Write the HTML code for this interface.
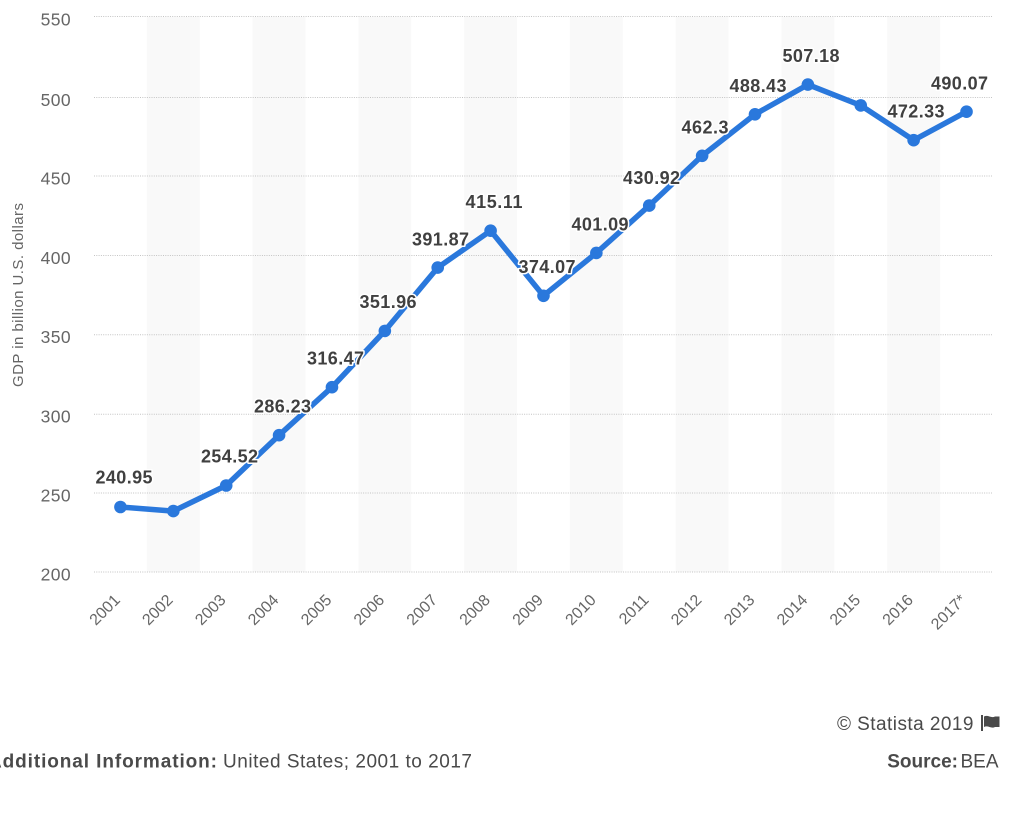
<!DOCTYPE html>
<html>
<head>
<meta charset="utf-8">
<style>
  html,body{margin:0;padding:0;background:#fff;}
  body{width:1011px;height:832px;overflow:hidden;}
  svg{display:block;font-family:"Liberation Sans",sans-serif;}
</style>
</head>
<body>
<svg width="1011" height="832" viewBox="0 0 1011 832" xmlns="http://www.w3.org/2000/svg">
  <!-- alternating bands -->
  <g fill="#f9f9f9">
    <rect x="146.88" y="17" width="52.88" height="555"/>
    <rect x="252.64" y="17" width="52.88" height="555"/>
    <rect x="358.40" y="17" width="52.88" height="555"/>
    <rect x="464.16" y="17" width="52.88" height="555"/>
    <rect x="569.92" y="17" width="52.88" height="555"/>
    <rect x="675.68" y="17" width="52.88" height="555"/>
    <rect x="781.44" y="17" width="52.88" height="555"/>
    <rect x="887.20" y="17" width="52.88" height="555"/>
  </g>
  <!-- gridlines -->
  <g stroke="#c4c4c4" stroke-width="1" stroke-dasharray="1 1.3">
    <line x1="94" y1="16.5" x2="993" y2="16.5"/>
    <line x1="94" y1="97.5" x2="993" y2="97.5"/>
    <line x1="94" y1="176" x2="993" y2="176"/>
    <line x1="94" y1="255.5" x2="993" y2="255.5"/>
    <line x1="94" y1="334.7" x2="993" y2="334.7"/>
    <line x1="94" y1="414.2" x2="993" y2="414.2"/>
    <line x1="94" y1="493" x2="993" y2="493"/>
    <line x1="94" y1="572" x2="993" y2="572"/>
  </g>
  <!-- y labels -->
  <g fill="#666" font-size="17.5" text-anchor="end" letter-spacing="0.4">
    <text x="71" y="25.5">550</text>
    <text x="71" y="106">500</text>
    <text x="71" y="184.5">450</text>
    <text x="71" y="264">400</text>
    <text x="71" y="343.2">350</text>
    <text x="71" y="422.7">300</text>
    <text x="71" y="501.5">250</text>
    <text x="71" y="580.5">200</text>
  </g>
  <!-- y title -->
  <text transform="translate(23,295) rotate(-90)" fill="#666" font-size="15" text-anchor="middle" textLength="184" lengthAdjust="spacing">GDP in billion U.S. dollars</text>
  <!-- x labels -->
  <g fill="#666" font-size="16" text-anchor="end">
    <text transform="translate(121,601) rotate(-45)">2001</text>
    <text transform="translate(173.8,601) rotate(-45)">2002</text>
    <text transform="translate(226.7,601) rotate(-45)">2003</text>
    <text transform="translate(279.6,601) rotate(-45)">2004</text>
    <text transform="translate(332.5,601) rotate(-45)">2005</text>
    <text transform="translate(385.3,601) rotate(-45)">2006</text>
    <text transform="translate(438.2,601) rotate(-45)">2007</text>
    <text transform="translate(491.1,601) rotate(-45)">2008</text>
    <text transform="translate(544,601) rotate(-45)">2009</text>
    <text transform="translate(596.9,601) rotate(-45)">2010</text>
    <text transform="translate(649.7,601) rotate(-45)">2011</text>
    <text transform="translate(702.6,601) rotate(-45)">2012</text>
    <text transform="translate(755.5,601) rotate(-45)">2013</text>
    <text transform="translate(808.4,601) rotate(-45)">2014</text>
    <text transform="translate(861.3,601) rotate(-45)">2015</text>
    <text transform="translate(914.1,601) rotate(-45)">2016</text>
    <text transform="translate(967,601) rotate(-45)">2017*</text>
  </g>
  <!-- series line -->
  <polyline fill="none" stroke="#2a78dc" stroke-width="5.5" stroke-linejoin="round" stroke-linecap="round"
    points="120.44,507 173.32,511.1 226.2,485.5 279.08,435.2 331.96,387.2 384.84,330.9 437.72,267.6 490.6,230.7 543.48,295.8 596.36,252.9 649.24,205.6 702.12,155.8 755,114.3 807.88,84.6 860.76,105.4 913.64,140.2 966.52,111.7"/>
  <g fill="#2a78dc">
    <circle cx="120.44" cy="507" r="6.3"/>
    <circle cx="173.32" cy="511.1" r="6.3"/>
    <circle cx="226.2" cy="485.5" r="6.3"/>
    <circle cx="279.08" cy="435.2" r="6.3"/>
    <circle cx="331.96" cy="387.2" r="6.3"/>
    <circle cx="384.84" cy="330.9" r="6.3"/>
    <circle cx="437.72" cy="267.6" r="6.3"/>
    <circle cx="490.6" cy="230.7" r="6.3"/>
    <circle cx="543.48" cy="295.8" r="6.3"/>
    <circle cx="596.36" cy="252.9" r="6.3"/>
    <circle cx="649.24" cy="205.6" r="6.3"/>
    <circle cx="702.12" cy="155.8" r="6.3"/>
    <circle cx="755" cy="114.3" r="6.3"/>
    <circle cx="807.88" cy="84.6" r="6.3"/>
    <circle cx="860.76" cy="105.4" r="6.3"/>
    <circle cx="913.64" cy="140.2" r="6.3"/>
    <circle cx="966.52" cy="111.7" r="6.3"/>
  </g>
  <!-- data labels -->
  <g fill="#404040" font-size="18" font-weight="bold" text-anchor="middle" stroke="#fff" stroke-width="3" stroke-linejoin="round" paint-order="stroke">
    <text x="124" y="483.5" textLength="57" lengthAdjust="spacing">240.95</text>
    <text x="229.5" y="462.5" textLength="57" lengthAdjust="spacing">254.52</text>
    <text x="282.5" y="412.5" textLength="57" lengthAdjust="spacing">286.23</text>
    <text x="335.5" y="364.5" textLength="57" lengthAdjust="spacing">316.47</text>
    <text x="388" y="308" textLength="57" lengthAdjust="spacing">351.96</text>
    <text x="440.5" y="245.5" textLength="57" lengthAdjust="spacing">391.87</text>
    <text x="494" y="208" textLength="57" lengthAdjust="spacing">415.11</text>
    <text x="547" y="273" textLength="57" lengthAdjust="spacing">374.07</text>
    <text x="600" y="230.5" textLength="57" lengthAdjust="spacing">401.09</text>
    <text x="651.5" y="184" textLength="57" lengthAdjust="spacing">430.92</text>
    <text x="705" y="133.5" textLength="47" lengthAdjust="spacing">462.3</text>
    <text x="758" y="92" textLength="57" lengthAdjust="spacing">488.43</text>
    <text x="811" y="62" textLength="57" lengthAdjust="spacing">507.18</text>
    <text x="916" y="117.5" textLength="57" lengthAdjust="spacing">472.33</text>
    <text x="959.5" y="89.5" textLength="57" lengthAdjust="spacing">490.07</text>
  </g>
  <!-- footer -->
  <g fill="#4a4a4a" font-size="19">
    <text x="973.5" y="730" text-anchor="end" textLength="136.5" lengthAdjust="spacing">© Statista 2019</text>
    <rect x="981" y="715" width="2" height="16"/>
    <path d="M984,716.5 C988,714.5 991,718.5 995,716.5 L999.5,716.5 L999.5,727 L995,727 C991,729 988,725 984,727 Z"/>
    <text x="958" y="767.5" text-anchor="end" font-weight="bold">Source:</text>
    <text x="998.5" y="767.5" text-anchor="end">BEA</text>
    <text x="217" y="767.5" text-anchor="end" font-weight="bold" textLength="229" lengthAdjust="spacing">Additional Information:</text>
    <text x="223" y="767.5" textLength="249" lengthAdjust="spacing">United States; 2001 to 2017</text>
  </g>
</svg>
</body>
</html>
